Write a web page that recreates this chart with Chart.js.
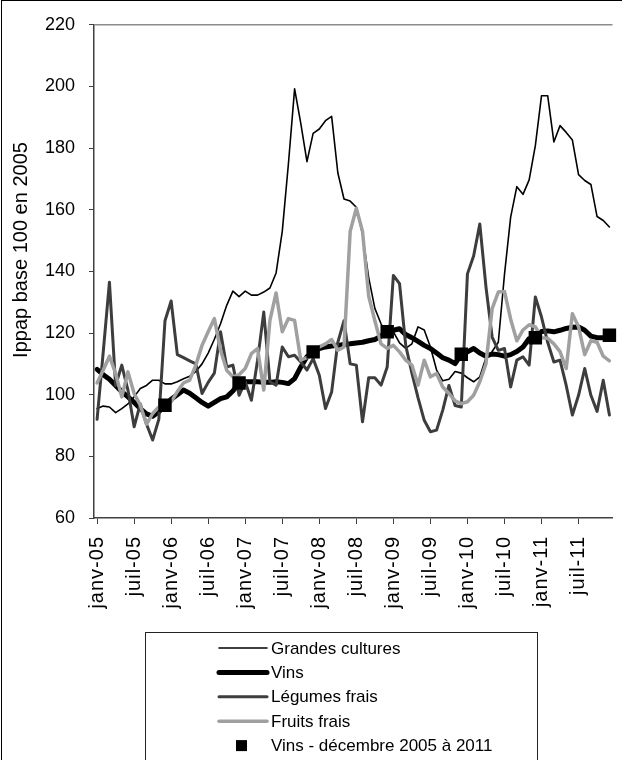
<!DOCTYPE html>
<html><head><meta charset="utf-8">
<script src="https://cdn.jsdelivr.net/npm/chart.js@4.4.1/dist/chart.umd.min.js"></script>
<style>html,body{margin:0;padding:0;background:#fff;}canvas{display:block;}</style>
</head><body>
<canvas id="c" width="622" height="760"></canvas>
<script>
const categories = [
 'janv-05','févr-05','mars-05','avr-05','mai-05','juin-05','juil-05','août-05','sept-05','oct-05','nov-05','déc-05',
 'janv-06','févr-06','mars-06','avr-06','mai-06','juin-06','juil-06','août-06','sept-06','oct-06','nov-06','déc-06',
 'janv-07','févr-07','mars-07','avr-07','mai-07','juin-07','juil-07','août-07','sept-07','oct-07','nov-07','déc-07',
 'janv-08','févr-08','mars-08','avr-08','mai-08','juin-08','juil-08','août-08','sept-08','oct-08','nov-08','déc-08',
 'janv-09','févr-09','mars-09','avr-09','mai-09','juin-09','juil-09','août-09','sept-09','oct-09','nov-09','déc-09',
 'janv-10','févr-10','mars-10','avr-10','mai-10','juin-10','juil-10','août-10','sept-10','oct-10','nov-10','déc-10',
 'janv-11','févr-11','mars-11','avr-11','mai-11','juin-11','juil-11','août-11','sept-11','oct-11','nov-11','déc-11'
];
const tickLabels = ['janv-05','juil-05','janv-06','juil-06','janv-07','juil-07','janv-08','juil-08','janv-09','juil-09','janv-10','juil-10','janv-11','juil-11'];

const grandesCultures = [
 95.5,96.3,96,94.2,95.5,97,99.3,102,103,104.7,104.7,103.5,
 103.5,104.2,105.2,106,107.5,110,113.5,118,123,129,133.6,131.8,
 133.6,132.3,132.3,133.3,134.6,139.5,153,175,199.2,188,175.6,184.8,
 186.2,188.9,190.3,172,163.5,162.8,160.8,152,138,128,123,119.5,
 120.4,116.8,115,116.5,122,121,115.5,108,104.5,105,107.5,107,
 105.5,104.2,105.8,112,114,117,139,157.6,167.5,165,169.7,180.8,
 197,197,182,187.3,185.1,182.6,171.4,169.5,168.2,157.8,156.5,154.4
];
const vins = [
 108.2,106.5,105,103,101,99.3,97.5,95.5,93.8,93,94.5,96.6,
 98.5,100,101.5,100.5,99,97.5,96.3,97.5,98.7,99.3,101.2,103.8,
 104.2,104.2,104.2,104,104,104.2,104,103.6,105.2,109,112.3,113.9,
 115,115.5,115.8,116,116.3,116.5,116.8,117,117.5,117.9,119,120.4,
 120.9,121.4,119.5,118.5,117.3,116,115,113.5,112,111.2,110.1,113.1,
 113.9,115,113.5,112.5,113.2,113,112.5,113,114,115.5,118.2,118.5,
 120.5,120.7,120.4,120.9,121.5,121.9,122,120.9,119,118.5,118.5,119.3
];
const legumesFrais = [
 92,114,136.5,103,109.6,101.5,89.6,97,90.5,85.3,92,124,
 130.4,113,112,111,110,100.4,104,107,120.4,109,109.6,99.8,
 104.2,98.2,111.2,126.8,104.2,103.1,115.5,112.3,112.8,110.6,108,111.7,
 106.3,95.5,100.9,117,124,110,109.6,91.2,105.5,105.5,103.1,109,
 138.7,136,116,107,99,91.7,88,88.5,95,103,96.5,96,
 139.2,145,155.4,135,118.7,114.4,115,102.5,111.2,112.3,109.6,131.7,
 125.2,117,110.6,111.2,103,93.4,99.8,108.5,99.8,94.6,104.7,93.4
];
const fruitsFrais = [
 103.8,108,112.5,106.9,99.3,107.4,100.4,96.6,90.4,93.9,96,97.1,
 97.7,101,103.8,104.7,109.6,116,120.4,124.7,114.4,107.9,105.8,106.5,
 108.5,113.3,115,101.5,124.1,133,120.4,124.7,124.1,111.2,112,113,
 115.5,116.5,117.9,114.4,115.5,153,160.5,153,132,124,116.5,115,
 116,113.9,111.2,109.6,103.1,111.2,105.8,106.9,102.5,100.4,98,97.1,
 97.7,99.8,104.2,110.1,127.9,133.3,133.5,124.5,117.5,121,122.7,122,
 118.5,118.3,116.5,114,108.5,126.3,122,113,117.5,117,112.5,111
];
const decembreLabels = ['déc-05','déc-06','déc-07','déc-08','déc-09','déc-10','déc-11'];
const vinsDecembre = [96.6,103.8,113.9,120.4,113.1,118.5,119.3];

const yTitle = 'Ippap base 100 en 2005';
const FONT = '"Liberation Sans", Arial, sans-serif';

const markerData = categories.map(c => {
  const k = decembreLabels.indexOf(c);
  return k >= 0 ? vinsDecembre[k] : null;
});

function setLS(ctx, v) { if ('letterSpacing' in ctx) ctx.letterSpacing = v; }

const decorPlugin = {
  id: 'decor',
  afterDatasetsDraw(chart) { setLS(chart.ctx, '1px'); },
  afterDraw(chart) {
    const ctx = chart.ctx;
    setLS(ctx, '0px');
    const a = chart.chartArea;
    ctx.save();
    // plot area top border
    ctx.strokeStyle = '#8c8c8c'; ctx.lineWidth = 1.5;
    ctx.beginPath(); ctx.moveTo(a.left, a.top); ctx.lineTo(a.right, a.top); ctx.stroke();
    // outer frame of the chart
    ctx.strokeStyle = '#000'; ctx.lineWidth = 1;
    ctx.strokeRect(1.5, 0.5, 700, 800);
    // y axis title
    ctx.fillStyle = '#000';
    ctx.font = '20px ' + FONT;
    ctx.translate(21, 250); ctx.rotate(-Math.PI / 2);
    ctx.textAlign = 'center'; ctx.textBaseline = 'middle';
    ctx.fillText(yTitle, 0, 0);
    ctx.restore();

    // legend
    ctx.save();
    ctx.strokeStyle = '#222'; ctx.lineWidth = 1;
    ctx.strokeRect(145.5, 632.5, 392, 160);
    const order = [4, 3, 2, 1, 0];
    ctx.font = '17px ' + FONT;
    ctx.textAlign = 'left'; ctx.textBaseline = 'middle';
    order.forEach((di, row) => {
      const ds = chart.data.datasets[di];
      const y = 648 + row * 24.4;
      if (ds.showLine === false) {
        ctx.fillStyle = '#000';
        ctx.fillRect(236, y - 5.5, 11, 11);
      } else {
        ctx.strokeStyle = ds.borderColor; ctx.lineWidth = ds.borderWidth;
        ctx.lineCap = 'round';
        ctx.beginPath(); ctx.moveTo(219, y); ctx.lineTo(267, y); ctx.stroke();
      }
      ctx.fillStyle = '#000';
      ctx.fillText(ds.label, 271, y + 1);
    });
    ctx.restore();
  }
};

new Chart(document.getElementById('c'), {
  type: 'line',
  data: {
    labels: categories,
    datasets: [
      { label: 'Vins - décembre 2005 à 2011', data: markerData, showLine: false, order: 0,
        pointStyle: 'rect', pointRadius: 9.5, pointHoverRadius: 9.5, backgroundColor: '#000', borderColor: '#000', borderWidth: 0 },
      { label: 'Fruits frais', data: fruitsFrais, order: 1, borderColor: '#a0a0a0', borderWidth: 3.5, pointRadius: 0, tension: 0,
        borderJoinStyle: 'round', borderCapStyle: 'round' },
      { label: 'Légumes frais', data: legumesFrais, order: 2, borderColor: '#3d3d3d', borderWidth: 3, pointRadius: 0, tension: 0,
        borderJoinStyle: 'round', borderCapStyle: 'round' },
      { label: 'Vins', data: vins, order: 3, borderColor: '#000', borderWidth: 5, pointRadius: 0, tension: 0,
        borderJoinStyle: 'round', borderCapStyle: 'round' },
      { label: 'Grandes cultures', data: grandesCultures, order: 4, borderColor: '#000', borderWidth: 1.6, pointRadius: 0, tension: 0,
        borderJoinStyle: 'round', borderCapStyle: 'round' }
    ]
  },
  options: {
    responsive: false,
    animation: false,
    devicePixelRatio: 1,
    layout: { padding: { top: 24, right: 0, bottom: 132, left: 0 } },
    plugins: { legend: { display: false }, tooltip: { enabled: false }, title: { display: false } },
    scales: {
      x: {
        type: 'category',
        offset: true,
        afterFit(s) { s.height = 110; s.paddingLeft = 0; s.paddingRight = 0; },
        grid: { display: true, drawOnChartArea: false, drawTicks: true, tickLength: 6, color: '#404040', lineWidth: 1 },
        border: { display: true, color: '#404040', width: 1.5 },
        ticks: {
          z: 1,
          autoSkip: false, maxRotation: 90, minRotation: 90, padding: 12,
          color: '#000', font: { family: FONT, size: 20 },
          callback(v, i) { const l = categories[i]; return tickLabels.includes(l) ? l : null; }
        }
      },
      y: {
        min: 60, max: 220,
        afterFit(s) { s.width = 94; },
        grid: { display: true, drawOnChartArea: false, drawTicks: true, tickLength: 5, color: '#404040', lineWidth: 1 },
        border: { display: true, color: '#404040', width: 1.5 },
        ticks: { stepSize: 20, padding: 14, color: '#000', font: { family: FONT, size: 18 } }
      }
    }
  },
  plugins: [decorPlugin]
});
</script>
</body></html>
